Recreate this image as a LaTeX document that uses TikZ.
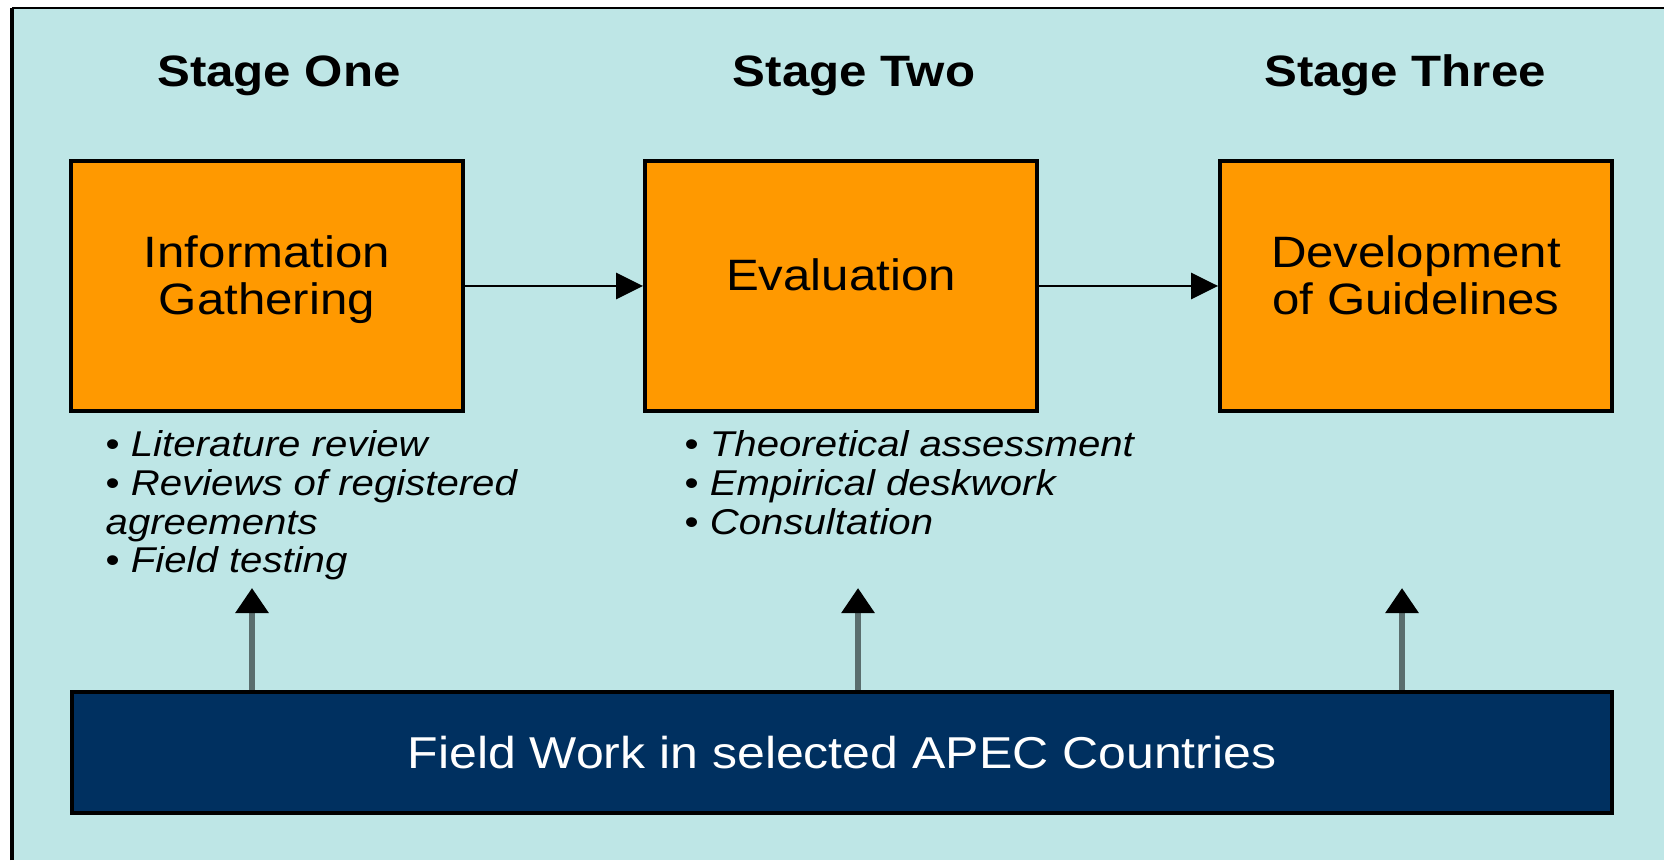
\documentclass[tikz,border=0pt]{standalone}
\usepackage{fontspec}
\setmainfont{Liberation Sans}[FakeStretch=1.12]
\usepackage{tikz}
\usetikzlibrary{positioning}
\usetikzlibrary{arrows.meta}

\definecolor{paleteal}{RGB}{190,230,230}
\definecolor{stageorange}{RGB}{255,153,0}
\definecolor{fieldnavy}{RGB}{0,48,96}
\definecolor{stemgray}{RGB}{90,110,110}

\begin{document}
\begin{tikzpicture}[
  stagebox/.style={draw=black, line width=1.1pt, fill=stageorange, minimum width=3.92cm, minimum height=2.50cm, align=center, text depth=0.22cm, font=\fontsize{12.5}{13.5}\selectfont},
  stagetitle/.style={anchor=base, font=\fontsize{12.5}{15}\selectfont\bfseries},
  notes/.style={anchor=north west, align=left, inner sep=0pt, font=\fontsize{10.2}{11}\selectfont},
  flow/.style={draw=black, line width=0.8pt, -{Triangle[length=0.27cm, width=0.26cm]}},
  feed/.style={draw=stemgray, line width=1.7pt, -{Triangle[length=0.25cm, width=0.32cm, color=black]}}
]
\useasboundingbox (0,0) rectangle (16.64,8.6);
\fill[paleteal] (0.12,0) rectangle (16.64,8.52);
\draw[line width=1.1pt] (0.12,0) -- (0.12,8.52);
\draw[line width=0.8pt] (0.12,8.52) -- (16.64,8.52);

% stage titles
\node[stagetitle] (t1) at (2.79,7.73) {Stage One};
\node[stagetitle] (t2) at (8.54,7.73) {Stage Two};
\node[stagetitle] (t3) at (14.05,7.73) {Stage Three};

% the three stages
\node[stagebox] (b1) at (2.67,5.74) {Information\\Gathering};
\node[stagebox] (b2) at (8.41,5.74) {Evaluation};
\node[stagebox] (b3) at (14.16,5.74) {Development\\of Guidelines};
\draw[flow] (b1) -- (b2);
\draw[flow] (b2) -- (b3);

% activities under the boxes
\node[notes] (n1) at (1.05,4.30) {\textbullet\ \textit{Literature review}\\\textbullet\ \textit{Reviews of registered}\\\textit{agreements}\\\textbullet\ \textit{Field testing}};
\node[notes] (n2) at (6.84,4.30) {\textbullet\ \textit{Theoretical assessment}\\\textbullet\ \textit{Empirical deskwork}\\\textbullet\ \textit{Consultation}};

% field work bar
\node[draw=black, line width=1.1pt, fill=fieldnavy, text=white, minimum width=15.40cm, minimum height=1.21cm, font=\fontsize{12.7}{15}\selectfont] (fw) at (8.42,1.075) {Field Work in selected APEC Countries};
\coordinate (up1) at (2.52,2.72);
\coordinate (up2) at (8.58,2.72);
\coordinate (up3) at (14.02,2.72);
\foreach \u in {up1,up2,up3}
{
	\draw[feed] (\u |- fw.north) -- (\u);
}
\end{tikzpicture}
\end{document}
